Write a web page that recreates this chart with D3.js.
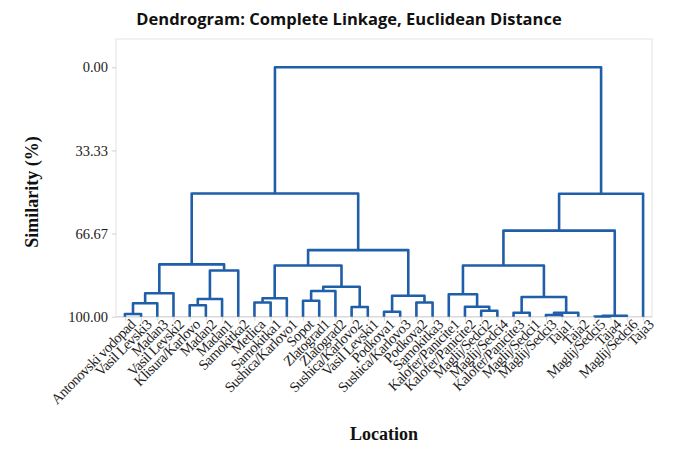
<!DOCTYPE html>
<html>
<head>
<meta charset="utf-8">
<script src="https://cdn.jsdelivr.net/npm/d3@7"></script>
<style>
  body { margin: 0; background: #fff; }
  svg { display: block; }
</style>
</head>
<body>
<div id="chart"></div>
<script>
// leaves, left to right as they appear on the axis
const leaves = [
  "Antonovski vodopad", "Vasil Levski3", "Madan3", "Vasil Levski2", "Klisura/Karlovo",
  "Madan2", "Madan1", "Samokitka2", "Metlica", "Samokitka1", "Sushica/Karlovo1",
  "Sopot", "Zlatograd1", "Zlatograd2", "Sushica/Karlovo2", "Vasil Levski1",
  "Podkova1", "Sushica/Karlovo3", "Podkova2", "Samokitka3", "Kalofer/Panicite1",
  "Kalofer/Panicite2", "Maglij/Sedci2", "Maglij/Sedci4", "Kalofer/Panicite3",
  "Maglij/Sedci1", "Maglij/Sedci3", "Taja1", "Taja2", "Maglij/Sedci5", "Taja4",
  "Maglij/Sedci6", "Taja3"
];

// merges: [childA, childB, similarity]; ids < 33 are leaves, id 33+k is merge k
const merges = [
  [0, 1, 98.9], [33, 2, 94.6], [34, 3, 90.6], [4, 5, 95.4], [36, 6, 92.9],
  [37, 7, 81.5], [35, 38, 79.0], [8, 9, 94.3], [40, 10, 92.6], [11, 12, 93.6],
  [42, 13, 89.7], [14, 15, 96.1], [43, 44, 88.0], [41, 45, 79.5], [16, 17, 98.0],
  [18, 19, 94.3], [47, 48, 91.6], [46, 49, 73.3], [39, 50, 50.6], [22, 23, 97.6],
  [21, 52, 96.0], [20, 53, 91.0], [24, 25, 98.4], [26, 27, 99.3], [56, 28, 98.4],
  [55, 57, 92.1], [54, 58, 79.5], [29, 30, 99.9], [60, 31, 99.6], [59, 61, 65.5],
  [62, 32, 50.7], [51, 63, 0.0]
];

const yTicks = [0, 33.33, 66.67, 100];

const W = 676, H = 458;
const frame = {left: 116, right: 652, top: 39, bottom: 317};

const svg = d3.select("#chart").append("svg")
  .attr("width", W)
  .attr("height", H);

const x = d3.scalePoint()
  .domain(d3.range(leaves.length))
  .range([frame.left, frame.right])
  .padding(0.55);

const y = d3.scaleLinear()
  .domain([0, 100])
  .range([67.3, 316.7]);

// plot frame
svg.append("rect")
  .attr("x", frame.left)
  .attr("y", frame.top)
  .attr("width", frame.right - frame.left)
  .attr("height", frame.bottom - frame.top)
  .attr("fill", "none")
  .attr("stroke", "#e3e3e3")
  .attr("stroke-width", 1);

// y axis
const yAxis = svg.append("g")
  .attr("transform", `translate(${frame.left},0)`)
  .call(d3.axisLeft(y).tickValues(yTicks).tickFormat(d3.format(".2f")).tickSize(4).tickPadding(4));
yAxis.select(".domain").remove();
yAxis.selectAll("line").attr("stroke", "#cfcfcf");
yAxis.selectAll("text")
  .attr("font-family", "'Liberation Serif', 'Times New Roman', serif")
  .attr("font-size", 14.5)
  .attr("fill", "#222");

// x axis with leaf labels
const xAxis = svg.append("g")
  .attr("transform", `translate(0,${y(100)})`)
  .call(d3.axisBottom(x).tickFormat(i => leaves[i]).tickSize(4).tickPadding(2));
xAxis.select(".domain")
  .attr("d", `M${frame.left},0H${frame.right}`)
  .attr("stroke", "#d6d6d6");
xAxis.selectAll("line").attr("stroke", "#d6d6d6");
xAxis.selectAll("text")
  .attr("font-family", "'Liberation Serif', 'Times New Roman', serif")
  .attr("font-size", 14.5)
  .attr("fill", "#222")
  .attr("letter-spacing", -0.5)
  .attr("text-anchor", "end")
  .attr("dx", "0.1em")
  .attr("dy", "0.55em")
  .attr("transform", "rotate(-45)");

// compute node positions from the merge table
const nodes = leaves.map((d, i) => ({x: x(i), s: 100}));
merges.forEach(([a, b, s]) => {
  nodes.push({x: (nodes[a].x + nodes[b].x) / 2, s: s});
});

svg.append("g")
  .selectAll("path")
  .data(merges)
  .join("path")
  .attr("d", ([a, b, s]) => {
    const A = nodes[a], B = nodes[b];
    return `M${A.x},${y(A.s)}V${y(s)}H${B.x}V${y(B.s)}`;
  })
  .attr("fill", "none")
  .attr("stroke", "#1f5ea8")
  .attr("stroke-width", 2.6)
  .attr("stroke-linejoin", "round");

// title
svg.append("text")
  .attr("x", 349)
  .attr("y", 25)
  .attr("text-anchor", "middle")
  .attr("font-family", "'Open Sans', 'Noto Sans', sans-serif")
  .attr("font-weight", "bold")
  .attr("font-size", 16.5)
  .attr("fill", "#111")
  .text("Dendrogram: Complete Linkage, Euclidean Distance");

// axis titles
svg.append("text")
  .attr("transform", `translate(38,${(frame.top + frame.bottom) / 2 + 14}) rotate(-90)`)
  .attr("text-anchor", "middle")
  .attr("font-family", "'Liberation Serif', 'Times New Roman', serif")
  .attr("font-weight", "bold")
  .attr("font-size", 18)
  .attr("fill", "#111")
  .text("Similarity (%)");

svg.append("text")
  .attr("x", (frame.left + frame.right) / 2)
  .attr("y", 440)
  .attr("text-anchor", "middle")
  .attr("font-family", "'Liberation Serif', 'Times New Roman', serif")
  .attr("font-weight", "bold")
  .attr("font-size", 18)
  .attr("fill", "#111")
  .text("Location");
</script>
</body>
</html>
